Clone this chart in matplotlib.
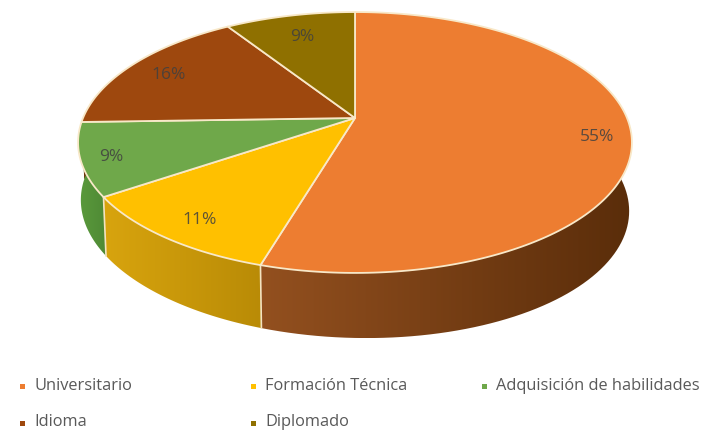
import numpy as np
import matplotlib
matplotlib.use('Agg')
import matplotlib.pyplot as plt
from matplotlib.patches import Polygon, Rectangle
from matplotlib.colors import LinearSegmentedColormap

# Data
categories = ['Universitario', 'Formación Técnica', 'Adquisición de habilidades', 'Idioma', 'Diplomado']
values = [54.6, 10.9, 9.0, 16.4, 9.1]
top_colors = ['#ED7D31', '#FFC000', '#6FA84A', '#9E480E', '#8F7000']
side_left = ['#93501f', '#d8a40e', '#5a9a3c', '#6b3008', '#665000']
side_right = ['#5a2d0a', '#b98b06', '#4f8a35', '#6b3008', '#665000']
label_pos = [(597, 137), (200, 220), (111, 157), (169, 75), (302, 37)]
legend_pos = [(22, 386), (253, 386), (484, 386), (22, 423), (253, 423)]

plt.rcParams['font.family'] = ['Open Sans', 'DejaVu Sans']

fig = plt.figure(figsize=(7.04, 4.3), dpi=100)
ax = fig.add_axes([0, 0, 1, 1])


# Excel style tilted pie: circle angle to picture position
def rim(theta):
    u, v = np.sin(theta), np.cos(theta)
    d = 1 + 0.1877 * v
    return 355 + 272 * u / d, (118 - 103.7 * v) / d


def rim_low(theta):
    x, y = rim(theta)
    return 355 + (x - 355) * 0.99, 118 + (y - 118) * 1.015 + 62.7 + (x - 355) * 0.02


edges = np.cumsum([0] + values) / sum(values) * 2 * np.pi

# sides first, back ones are hidden by the top anyway
for i in range(len(values)):
    t = np.linspace(edges[i], edges[i + 1], 120)
    xt, yt = rim(t)
    xb, yb = rim_low(t)
    pts = np.column_stack([np.r_[xt, xb[::-1]], np.r_[yt, yb[::-1]]])
    cmap = LinearSegmentedColormap.from_list('side', [side_left[i], side_right[i]])
    x0, x1 = pts[:, 0].min(), pts[:, 0].max()
    im = ax.imshow(np.linspace(0, 1, 256).reshape(1, -1), cmap=cmap, aspect='auto',
                   extent=(x0, x1, pts[:, 1].max(), pts[:, 1].min()), zorder=1)
    wall = Polygon(pts, closed=True, transform=ax.transData, facecolor='none', edgecolor='none')
    ax.add_patch(wall)
    im.set_clip_path(wall)
    # light seam on the front wall
    if i < 2:
        xs, ys = rim(edges[i + 1])
        xe, ye = rim_low(edges[i + 1])
        ax.plot([xs, xe], [ys, ye], color='#f3e3c0', lw=1.2, zorder=2)

ax.set_xlim(0, 704)
ax.set_ylim(430, 0)
ax.axis('off')

# top faces
for i in range(len(values)):
    t = np.linspace(edges[i], edges[i + 1], 200)
    x, y = rim(t)
    pts = np.column_stack([np.r_[355, x], np.r_[118, y]])
    ax.add_patch(Polygon(pts, closed=True, facecolor=top_colors[i], edgecolor='#f8e8c8',
                         linewidth=1.3, joinstyle='round', zorder=3))

for v, (lx, ly) in zip(values, label_pos):
    ax.text(lx, ly, f'{v:.0f}%', ha='center', va='center', fontsize=12.5, color='#404040', alpha=0.85, zorder=4)

# legend
for name, col, (lx, ly) in zip(categories, top_colors, legend_pos):
    ax.add_patch(Rectangle((lx - 2.5, ly - 2.5), 5, 5, facecolor=col, edgecolor='none', zorder=4))
    ax.text(lx + 12, ly - 0.5, name, ha='left', va='center', fontsize=11.8, color='#595959', zorder=4)

fig.savefig('out.png', dpi=100)
